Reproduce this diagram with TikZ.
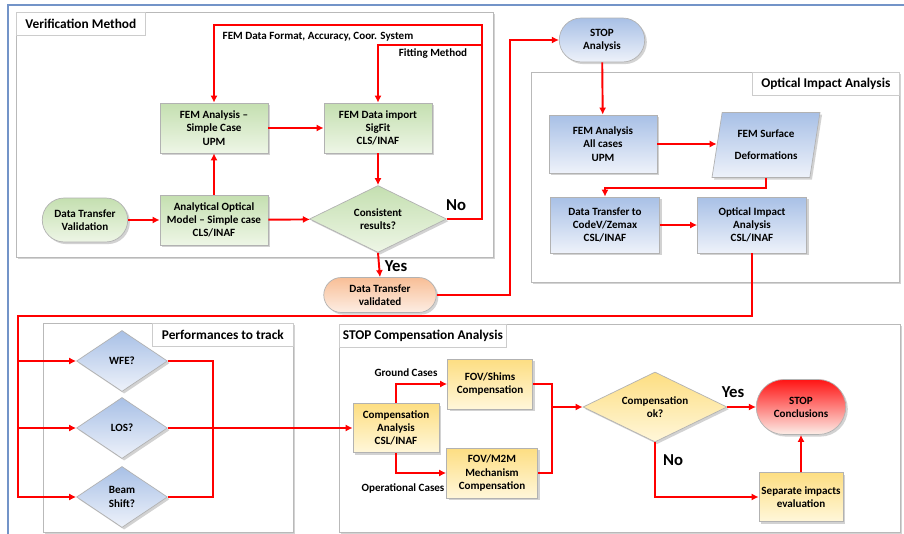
\documentclass[tikz,border=0pt]{standalone}
\usepackage{fontspec}
\setmainfont{Carlito}
\usepackage{xcolor}
\usetikzlibrary{arrows.meta, shapes.geometric, shapes.misc, shadows}

\definecolor{frameblue}{RGB}{115,148,200}
\definecolor{greentop}{RGB}{196,223,176}
\definecolor{greenbot}{RGB}{238,246,230}
\definecolor{bluetop}{RGB}{168,192,230}
\definecolor{bluebot}{RGB}{238,242,250}
\definecolor{yellowtop}{RGB}{253,222,130}
\definecolor{yellowbot}{RGB}{255,247,218}
\definecolor{orangetop}{RGB}{248,190,150}
\definecolor{orangebot}{RGB}{253,238,228}
\definecolor{redtop}{RGB}{255,20,20}
\definecolor{redbot}{RGB}{252,238,232}

\begin{document}
\begin{tikzpicture}[x=0.02cm, y=-0.02cm, >={Latex[length=4pt,width=4pt]},
    font=\fontsize{6.3}{7.5}\selectfont\bfseries,
    shade/.style={drop shadow={opacity=0.35, shadow xshift=1.2pt, shadow yshift=-1.2pt}},
    box/.style={shade, draw=gray!60, align=center, inner sep=1pt},
    greenbox/.style={box, top color=greentop, bottom color=greenbot},
    bluebox/.style={box, top color=bluetop, bottom color=bluebot},
    yellowbox/.style={box, top color=yellowtop, bottom color=yellowbot},
    orangebox/.style={box, top color=orangetop, bottom color=orangebot},
    redbox/.style={box, top color=redtop, bottom color=redbot},
    decision/.style={diamond, aspect=2, inner sep=0pt},
    panel/.style={shade, draw=gray!55, fill=white},
    titlebox/.style={draw=gray!40, fill=white, anchor=north west, minimum height=0.46cm,
        inner sep=2pt, font=\fontsize{7.6}{9}\selectfont\bfseries},
    flow/.style={->, draw=red, line width=1.1pt},
    line/.style={draw=red, line width=1.1pt},
    answer/.style={font=\fontsize{9.5}{11}\selectfont\bfseries},
    note/.style={inner sep=0pt}]

    \useasboundingbox (0,0) rectangle (904,534);

    % --- outer frame ---
    \draw[frameblue, line width=0.9pt] (8,534) -- (8,5) -- (904,5);

    % --- panels ---
    \draw[panel] (16,12) rectangle (493,257);
    \node[titlebox, minimum width=2.58cm] (tver) at (16,12) {Verification Method};
    \draw[panel] (531,72) rectangle (899,282);
    \node[titlebox, minimum width=2.94cm] (topt) at (752,72) {Optical Impact Analysis};
    \draw[panel] (43,323) rectangle (293,532);
    \node[titlebox, minimum width=2.82cm] (tperf) at (152,323) {Performances to track};
    \draw[panel] (339,324) rectangle (900,532);
    \node[titlebox, minimum width=3.28cm] (tcomp) at (339,324) {STOP Compensation Analysis};

    % --- Verification Method ---
    \node[greenbox, rounded rectangle, minimum width=1.78cm, minimum height=0.88cm] (dtv) at (85,220) {Data Transfer\\Validation};
    \node[greenbox, minimum width=2.16cm, minimum height=1.0cm] (aom) at (214,220) {Analytical Optical\\Model -- Simple case\\CLS/INAF};
    \node[greenbox, minimum width=2.16cm, minimum height=1.0cm] (fems) at (214,128) {FEM Analysis --\\Simple Case\\UPM};
    \node[greenbox, minimum width=2.16cm, minimum height=1.0cm] (femi) at (378,128) {FEM Data import\\SigFit\\CLS/INAF};
    \node[greenbox, decision, minimum width=2.74cm, minimum height=1.34cm] (cons) at (378,219) {Consistent\\results?};
    \node[orangebox, rounded rectangle, minimum width=2.32cm, minimum height=0.70cm] (dtok) at (380,295) {Data Transfer\\validated};

    \coordinate (fbtop) at (482,25);
    \coordinate (fbfit) at (482,45);
    \draw[flow] (dtv) -- (aom);
    \draw[flow] (aom) -- (fems);
    \draw[flow] (fems) -- (femi);
    \draw[flow] (aom) -- (cons);
    \draw[flow] (femi) -- (cons);
    \draw[flow] (cons.east) -| (fbtop) -| (fems.north);
    \draw[flow] (fbfit) -| (femi.north);
    \draw[flow] (cons.south) -- (dtok.north);
    \node[note] (lfmt) at (318,37) {FEM Data Format, Accuracy, Coor. System};
    \node[note] (lfit) at (433,54) {Fitting Method};
    \node[answer] (no1) at (456,205) {No};
    \node[answer] (yes1) at (396,266) {Yes};

    % --- STOP Analysis / Optical Impact Analysis ---
    \node[bluebox, rounded rectangle, minimum width=1.78cm, minimum height=0.88cm] (stopa) at (602,40) {STOP\\Analysis};
    \node[bluebox, minimum width=2.16cm, minimum height=1.16cm] (fema) at (603,144) {FEM Analysis\\All cases\\UPM};
    \node[bluebox, trapezium, trapezium left angle=77, trapezium right angle=103, trapezium stretches=true,
        minimum width=2.16cm, minimum height=1.3cm] (fsd) at (766,145) {FEM Surface\\[5pt]Deformations};
    \node[bluebox, minimum width=2.18cm, minimum height=1.12cm] (dtc) at (605,225) {Data Transfer to\\CodeV/Zemax\\CSL/INAF};
    \node[bluebox, minimum width=2.18cm, minimum height=1.12cm] (oia) at (752,225) {Optical Impact\\Analysis\\CSL/INAF};

    \coordinate (jog) at (510,40);
    \draw[flow] (dtok.east) -| (jog) -- (stopa.west);
    \draw[flow] (stopa) -- (fema);
    \draw[flow] (fema.east) -- (fema.east -| fsd.west);
    \draw[flow] (fsd.south) -- ++(0,10) -| (dtc.north);
    \draw[flow] (dtc) -- (oia);

    % --- Performances to track ---
    \node[bluebox, decision, minimum width=1.82cm, minimum height=1.22cm] (wfe) at (122,361) {WFE?};
    \node[bluebox, decision, minimum width=1.82cm, minimum height=1.22cm] (los) at (122,428) {LOS?};
    \node[bluebox, decision, minimum width=1.82cm, minimum height=1.22cm] (bshift) at (122,497) {Beam\\Shift?};

    \coordinate (bus) at (18,316);
    \coordinate (col) at (213,361);
    \draw[flow] (oia.south) |- (bus) |- (bshift.west);
    \draw[flow] (bus |- wfe.west) -- (wfe.west);
    \draw[flow] (bus |- los.west) -- (los.west);
    \draw[line] (wfe.east) -| (col) |- (bshift.east);

    % --- STOP Compensation Analysis ---
    \node[yellowbox, minimum width=1.72cm, minimum height=0.98cm] (comp) at (396,428) {Compensation\\Analysis\\CSL/INAF};
    \node[yellowbox, minimum width=1.70cm, minimum height=1.0cm] (shims) at (490,384) {FOV/Shims\\Compensation};
    \node[yellowbox, minimum width=1.82cm, minimum height=1.0cm] (m2m) at (492,473) {FOV/M2M\\Mechanism\\Compensation};
    \node[yellowbox, decision, minimum width=2.88cm, minimum height=1.40cm] (cok) at (655,407) {Compensation\\ok?};
    \node[redbox, rounded rectangle, minimum width=1.86cm, minimum height=1.10cm] (stopc) at (801,407) {STOP\\Conclusions};
    \node[yellowbox, minimum width=1.68cm, minimum height=0.98cm] (sep) at (801,497) {Separate impacts\\evaluation};

    \coordinate (merge) at (552,407);
    \draw[flow] (los.east) -- (comp.west);
    \draw[flow] (comp.north) |- (shims.west);
    \draw[flow] (comp.south) |- (m2m.west);
    \draw[line] (shims.east) -| (merge) |- (m2m.east);
    \draw[flow] (merge) -- (cok.west);
    \draw[flow] (cok) -- (stopc);
    \draw[flow] (cok.south) |- (sep.west);
    \draw[flow] (sep) -- (stopc);
    \node[note] (lgnd) at (406,373) {Ground Cases};
    \node[note] (lopr) at (403,488) {Operational Cases};
    \node[answer] (yes2) at (733,392) {Yes};
    \node[answer] (no2) at (673,460) {No};

\end{tikzpicture}
\end{document}
